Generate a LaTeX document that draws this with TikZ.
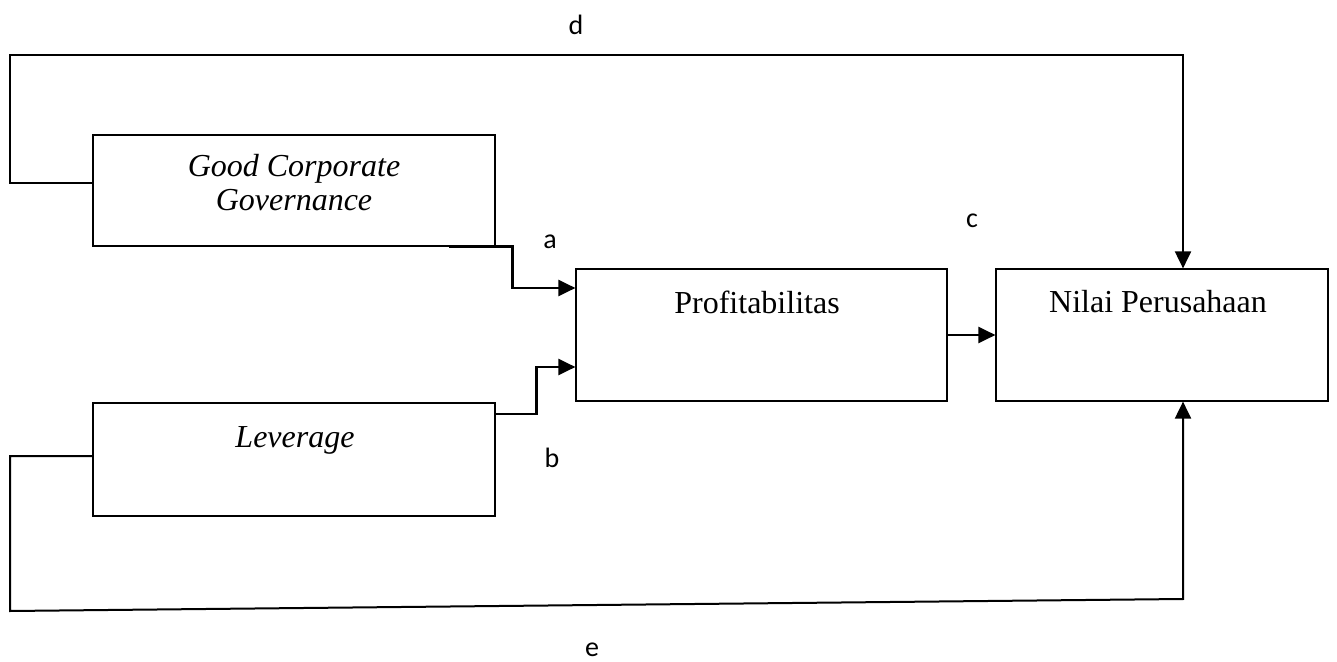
\documentclass[tikz,border=0pt]{standalone}
\usepackage{fontspec}
\usepackage{xcolor}
\usepackage{tikz}
\usetikzlibrary{calc,arrows.meta,positioning,fit}
\setmainfont{Liberation Serif}
\newfontfamily\pathfont{Carlito}
\definecolor{lineblack}{RGB}{0,0,0}

\begin{document}
\begin{tikzpicture}[x=0.5pt,y=-0.5pt,
  varbox/.style={draw=lineblack, line width=0.6pt, inner sep=0pt},
  vartext/.style={align=center, font=\fontsize{16}{17}\selectfont, inner sep=0pt},
  pathlabel/.style={font=\pathfont\fontsize{14}{16}\selectfont, inner sep=0pt},
  link/.style={draw=lineblack, line width=1.3pt, -{Triangle[length=8.5pt,width=8pt]}},
  direct/.style={draw=lineblack, line width=1pt, -{Triangle[length=8.5pt,width=8pt]}}]
\useasboundingbox (0,0) rectangle (1337,662);
% variables
\node[varbox, fit={(93,135) (495,246)}] (gcg) {};
\node[varbox, fit={(93,403) (495,516)}] (lev) {};
\node[varbox, fit={(576,269) (947,401)}] (profit) {};
\node[varbox, fit={(996,269) (1328,401)}] (nilai) {};
\node[vartext] (gcgtext) at (294,183) {\itshape Good Corporate\\\itshape Governance};
\node[vartext] (levtext) at (295,440) {\itshape Leverage};
\node[vartext] (profittext) at (757,302) {Profitabilitas};
\node[vartext] (nilaitext) at (1158,302) {Nilai Perusahaan};
% corners of the direct paths
\coordinate (dleft) at (10,55);
\coordinate (dright) at (1183,55);
\coordinate (eleft) at (10,611);
\coordinate (eright) at (1183,599);
% paths
\draw[link] ([xshift=-23.5pt]gcg.south east) -- ++(64,0) |- ([yshift=23.5pt]profit.west);
\draw[link] ([yshift=22.75pt]lev.east) -- ++(41,0) |- ([yshift=-16pt]profit.west);
\draw[link] (profit.east) -- (nilai.west);
\draw[direct] ([yshift=3.75pt]gcg.west) -| (dleft) -- (dright) -- (dright |- nilai.north);
\draw[direct] ([yshift=1.75pt]lev.west) -| (eleft) -- (eright) -- (eright |- nilai.south);
\node[pathlabel] (la) at (550,242) {a};
\node[pathlabel] (lb) at (552,458) {b};
\node[pathlabel] (lc) at (972,221) {c};
\node[pathlabel] (ld) at (576,25) {d};
\node[pathlabel] (le) at (592,650) {e};
\end{tikzpicture}
\end{document}
